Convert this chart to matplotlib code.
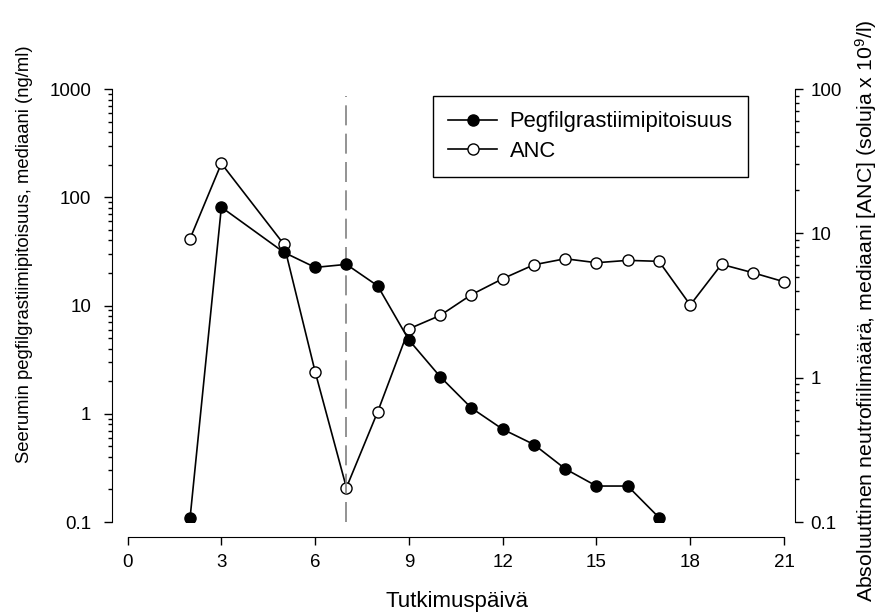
import matplotlib
matplotlib.use('Agg')
import matplotlib.pyplot as plt
from matplotlib.ticker import LogLocator, FuncFormatter, NullFormatter

plt.rcParams['font.family'] = ['Liberation Sans', 'DejaVu Sans']
plt.rcParams['mathtext.default'] = 'regular'

# Pegfilgrastiimipitoisuus (ng/ml), vasen akseli
peg_days = [2, 3, 5, 6, 7, 8, 9, 10, 11, 12, 13, 14, 15, 16, 17]
peg_values = [0.11, 81, 31, 22.5, 24, 15.2, 4.8, 2.2, 1.13, 0.72, 0.52, 0.31, 0.215, 0.215, 0.11]

# ANC (soluja x 10^9/l), oikea akseli
anc_days = [2, 3, 5, 6, 7, 8, 9, 10, 11, 12, 13, 14, 15, 16, 17, 18, 19, 20, 21]
anc_values = [9.2, 30.5, 8.4, 1.1, 0.173, 0.58, 2.18, 2.7, 3.76, 4.85, 6.06, 6.67, 6.26,
              6.5, 6.4, 3.19, 6.1, 5.34, 4.62]

x_ticks = [0, 3, 6, 9, 12, 15, 18, 21]
dose_day = 7

fig = plt.figure(figsize=(8.83, 6.14), dpi=100)
ax = fig.add_axes([0.1268, 0.1498, 0.7735, 0.7052])
ax2 = ax.twinx()

fmt = FuncFormatter(lambda v, p: '%g' % v)

# Vasen akseli
ax.set_yscale('log')
ax.set_ylim(0.1, 1000)
ax.set_xlim(-0.5, 21.35)
ax.yaxis.set_major_locator(LogLocator(base=10, numticks=10))
ax.yaxis.set_minor_locator(LogLocator(base=10, subs=range(2, 10), numticks=10))
ax.yaxis.set_major_formatter(fmt)
ax.yaxis.set_minor_formatter(NullFormatter())
ax.set_xticks(x_ticks)
ax.spines['top'].set_visible(False)
ax.spines['right'].set_visible(False)
ax.spines['bottom'].set_position(('outward', 11))
ax.spines['bottom'].set_bounds(0, 21)
ax.tick_params(axis='y', which='major', length=6, width=1, labelsize=13.5, pad=9)
ax.tick_params(axis='y', which='minor', length=3, width=1)
ax.tick_params(axis='x', length=6, width=1, labelsize=13.5, pad=6)

# Oikea akseli
ax2.set_yscale('log')
ax2.set_ylim(0.1, 100)
ax2.yaxis.set_major_locator(LogLocator(base=10, numticks=10))
ax2.yaxis.set_minor_locator(LogLocator(base=10, subs=range(2, 10), numticks=10))
ax2.yaxis.set_major_formatter(fmt)
ax2.yaxis.set_minor_formatter(NullFormatter())
for s in ['top', 'left', 'bottom']:
    ax2.spines[s].set_visible(False)
ax2.tick_params(axis='y', which='major', length=6, width=1, labelsize=13.5, pad=5)
ax2.tick_params(axis='y', which='minor', length=3, width=1)

# Piirretään pegfilgrastiimi ANC:n päälle
ax.set_zorder(ax2.get_zorder() + 1)
ax.patch.set_visible(False)

ax.axvline(dose_day, ymin=0, ymax=0.984, color='#808080', lw=1.2, dashes=(12, 5))

l2, = ax2.plot(anc_days, anc_values, color='black', lw=1.2, marker='o', markersize=8,
               markerfacecolor='white', markeredgecolor='black', markeredgewidth=1, label='ANC')
l1, = ax.plot(peg_days, peg_values, color='black', lw=1.2, marker='o', markersize=8,
              markerfacecolor='black', markeredgecolor='black',
              label='Pegfilgrastiimipitoisuus')

leg = ax.legend(handles=[l1, l2], loc='upper left', bbox_to_anchor=(0.490, 0.8436),
                bbox_transform=fig.transFigure, borderaxespad=0, fontsize=15.8,
                fancybox=False, edgecolor='black', framealpha=1, handlelength=2.25,
                handletextpad=0.55, labelspacing=0.38, borderpad=0.7)
leg.get_frame().set_linewidth(1)

ax.set_ylabel('Seerumin pegfilgrastiimipitoisuus, mediaani (ng/ml)', fontsize=13.3)
ax.yaxis.set_label_coords(-0.1157, 0.619)
ax2.set_ylabel('Absoluuttinen neutrofiilimäärä, mediaani [ANC] (soluja x 10$^{9}$/l)',
               fontsize=15.3, rotation=90)
ax2.yaxis.set_label_coords(1.085, 0.487)
ax.set_xlabel('Tutkimuspäivä', fontsize=16)
ax.xaxis.set_label_coords(0.505, -0.160)

fig.savefig('out.png', dpi=100)
plt.close(fig)
